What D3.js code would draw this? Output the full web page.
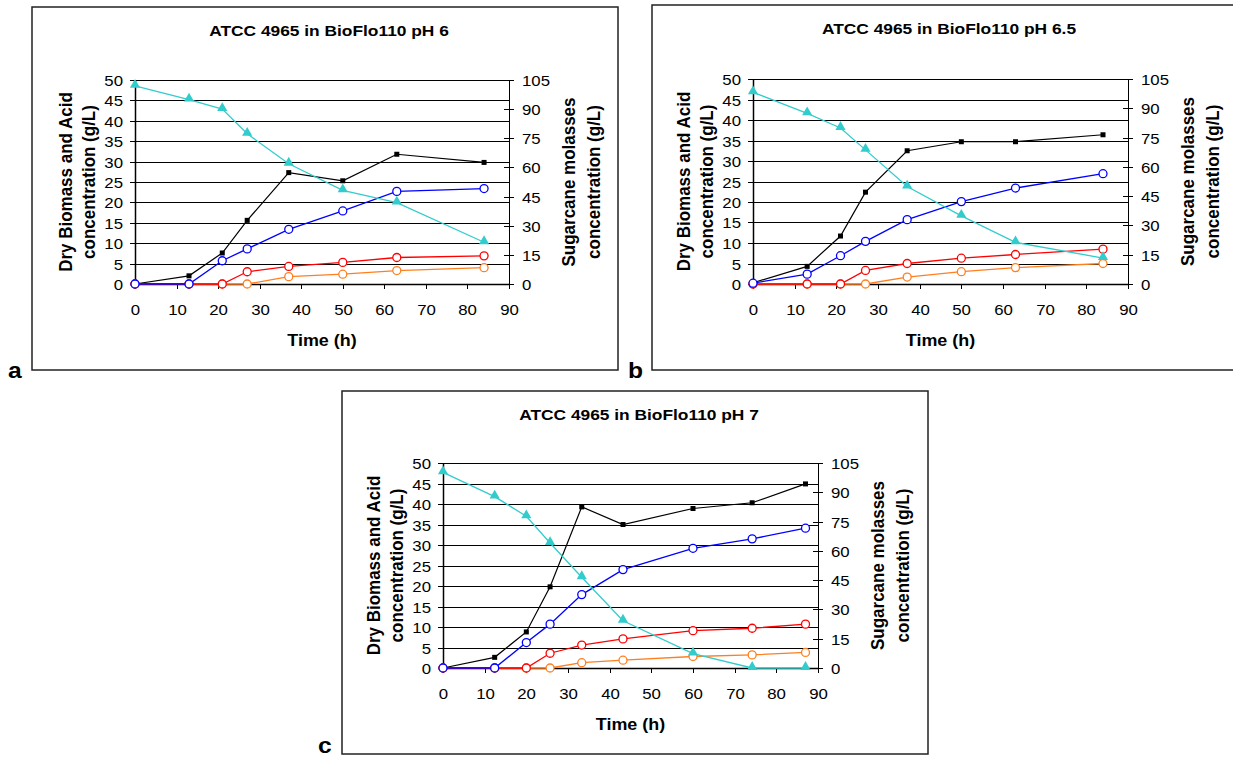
<!DOCTYPE html>
<html>
<head>
<meta charset="utf-8">
<script src="https://cdn.jsdelivr.net/npm/d3@7"></script>
<style>
  body { margin: 0; background: #fff; }
  svg { display: block; font-family: Arial, "Liberation Sans", sans-serif; }
</style>
</head>
<body>
<svg id="chart" width="1233" height="760"></svg>
<script>
// ---- data ----
var titles = ["ATCC 4965 in BioFlo110 pH 6", "ATCC 4965 in BioFlo110 pH 6.5", "ATCC 4965 in BioFlo110 pH 7"];
var letters = ["a", "b", "c"];

var timeA   = [0, 13, 21, 27, 37, 50, 63, 84];
var blackA  = [0, 2.0, 7.6, 15.6, 27.3, 25.3, 31.8, 29.8];
var blueA   = [0, 0, 5.7, 8.6, 13.4, 17.9, 22.7, 23.4];
var redA    = [0, 0, 0, 3.0, 4.3, 5.3, 6.5, 6.9];
var orangeA = [0, 0, 0, 0, 1.8, 2.4, 3.3, 4.0];
var cyanA   = [102, 94.9, 90, 77.3, 61.9, 48.2, 41.9, 21.5];

var timeB   = [0, 13, 21, 27, 37, 50, 63, 84];
var blackB  = [0.3, 4.3, 11.7, 22.4, 32.5, 34.7, 34.7, 36.4];
var blueB   = [0.2, 2.4, 6.9, 10.4, 15.7, 20.1, 23.4, 26.9];
var redB    = [0, 0, 0, 3.3, 5.0, 6.3, 7.2, 8.5];
var orangeB = [0, 0, 0, 0, 1.7, 3.0, 4.0, 5.0];
var cyanB   = [98.2, 87.4, 79.9, 68.7, 49.9, 34.9, 21.3, 13.3];

var timeC   = [0, 12.4, 20, 25.7, 33.3, 43.2, 60, 74.2, 87];
var blackC  = [0, 2.6, 8.8, 19.8, 39.3, 35.0, 38.9, 40.3, 44.9];
var blueC   = [0, 0, 6.2, 10.7, 17.9, 24.0, 29.2, 31.5, 34.1];
var redC    = [0, 0, 0, 3.6, 5.6, 7.1, 9.1, 9.7, 10.7];
var orangeC = [0, 0, 0, 0, 1.3, 1.9, 2.8, 3.2, 3.8];
var cyanC   = [100.2, 87.8, 77.7, 64.0, 46.5, 24.2, 7.4, 0, 0];

var xTicks = d3.range(0, 91, 10);
var leftTicks = d3.range(0, 51, 5);
var rightTicks = d3.range(0, 106, 15);

var leftTitle = ["Dry Biomass and Acid", "concentration (g/L)"];
var rightTitle = ["Sugarcane molasses", "concentration (g/L)"];
var xTitle = "Time (h)";

// the scan is stretched sideways a bit, so is the text
var STRETCH = 1.12;

var svg = d3.select("#chart");

// frame and plot boxes (pixels)
var panels = [
  {frame: [32, 7, 618, 370],  plot: [135, 80, 509, 284],  title: titles[0], letter: letters[0],
   t: timeA, black: blackA, blue: blueA, red: redA, orange: orangeA, cyan: cyanA},
  {frame: [652, 5, 1238, 370], plot: [753, 79, 1128, 284], title: titles[1], letter: letters[1],
   t: timeB, black: blackB, blue: blueB, red: redB, orange: orangeB, cyan: cyanB},
  {frame: [342, 391, 928, 754], plot: [443, 463, 818, 668], title: titles[2], letter: letters[2],
   t: timeC, black: blackC, blue: blueC, red: redC, orange: orangeC, cyan: cyanC}
];

function stext(g, x, y, str, size, weight, anchor, rot) {
  return g.append("text")
      .attr("transform", "translate(" + x + "," + y + ") scale(" + STRETCH + ",1)" + (rot ? " rotate(" + rot + ")" : ""))
      .attr("font-size", size)
      .attr("font-weight", weight || "normal")
      .attr("text-anchor", anchor || "middle")
      .attr("fill", "#000")
      .text(str);
}

panels.forEach(function(p) {
  var g = svg.append("g");
  var L = p.plot[0], T = p.plot[1], R = p.plot[2], B = p.plot[3];

  g.append("rect")
      .attr("x", p.frame[0]).attr("y", p.frame[1])
      .attr("width", p.frame[2] - p.frame[0]).attr("height", p.frame[3] - p.frame[1])
      .attr("fill", "none").attr("stroke", "#222").attr("stroke-width", 1.5);

  var x = d3.scaleLinear().domain([0, 90]).range([L, R]),
      y = d3.scaleLinear().domain([0, 50]).range([B, T]),
      y2 = d3.scaleLinear().domain([0, 105]).range([B, T]);

  // gridlines
  g.selectAll(".grid").data(leftTicks).enter().append("line")
      .attr("x1", L).attr("x2", R)
      .attr("y1", function(d) { return Math.round(y(d)) + 0.5; })
      .attr("y2", function(d) { return Math.round(y(d)) + 0.5; })
      .attr("stroke", "#000").attr("stroke-width", 1);

  // left axis
  g.append("line").attr("x1", L + 0.5).attr("x2", L + 0.5).attr("y1", T).attr("y2", B)
      .attr("stroke", "#000").attr("stroke-width", 1.5);
  leftTicks.forEach(function(d) {
    var yy = Math.round(y(d)) + 0.5;
    g.append("line").attr("x1", L - 5).attr("x2", L).attr("y1", yy).attr("y2", yy).attr("stroke", "#000");
    stext(g, L - 12, yy + 5.5, d, 15, "normal", "end");
  });

  // right axis, cross ticks
  g.append("line").attr("x1", R + 0.5).attr("x2", R + 0.5).attr("y1", T).attr("y2", B)
      .attr("stroke", "#000").attr("stroke-width", 1);
  rightTicks.forEach(function(d) {
    var yy = Math.round(y2(d)) + 0.5;
    g.append("line").attr("x1", R - 5).attr("x2", R + 5).attr("y1", yy).attr("y2", yy).attr("stroke", "#000");
    stext(g, R + 13, yy + 5.5, d, 15, "normal", "start");
  });

  // bottom axis
  g.append("line").attr("x1", L).attr("x2", R).attr("y1", B + 0.5).attr("y2", B + 0.5)
      .attr("stroke", "#000").attr("stroke-width", 1.5);
  xTicks.forEach(function(d) {
    var xx = Math.round(x(d)) + 0.5;
    g.append("line").attr("x1", xx).attr("x2", xx).attr("y1", B).attr("y2", B + 5).attr("stroke", "#000");
    stext(g, xx, B + 31, d, 15, "normal", "middle");
  });

  // titles
  stext(g, (p.frame[0] + p.frame[2]) / 2 + 4, p.frame[1] + 29, p.title, 15.5, "bold", "middle");
  stext(g, (L + R) / 2, B + 62, xTitle, 16, "bold", "middle");
  var my = (T + B) / 2;
  stext(g, L - 63, my, leftTitle[0], 17, "bold", "middle", -90);
  stext(g, L - 40, my, leftTitle[1], 17, "bold", "middle", -90);
  stext(g, R + 66, my, rightTitle[0], 17, "bold", "middle", -90);
  stext(g, R + 91, my, rightTitle[1], 17, "bold", "middle", -90);
  stext(g, p.frame[0] - 24, Math.min(p.frame[3] + 8, 753), p.letter, 22, "bold", "start");

  // series
  function pts(vals) { return p.t.map(function(t, i) { return [t, vals[i]]; }); }
  var line1 = d3.line().x(function(d) { return x(d[0]); }).y(function(d) { return y(d[1]); });
  var line2 = d3.line().x(function(d) { return x(d[0]); }).y(function(d) { return y2(d[1]); });

  function circles(vals, color) {
    var data = pts(vals);
    g.append("path").datum(data).attr("d", line1).attr("fill", "none").attr("stroke", color).attr("stroke-width", 1.3);
    g.selectAll(null).data(data).enter().append("circle")
        .attr("cx", function(d) { return x(d[0]); }).attr("cy", function(d) { return y(d[1]); })
        .attr("r", 4).attr("fill", "#fff").attr("stroke", color).attr("stroke-width", 1.3);
  }

  var bk = pts(p.black);
  g.append("path").datum(bk).attr("d", line1).attr("fill", "none").attr("stroke", "#000").attr("stroke-width", 1.2);
  g.selectAll(null).data(bk).enter().append("rect")
      .attr("x", function(d) { return x(d[0]) - 2.5; }).attr("y", function(d) { return y(d[1]) - 2.5; })
      .attr("width", 5).attr("height", 5).attr("fill", "#000");

  circles(p.orange, "#ff7f1f");
  circles(p.red, "#ff0000");
  circles(p.blue, "#0000ff");

  var cy = pts(p.cyan);
  var tri = d3.symbol().type(d3.symbolTriangle).size(45);
  g.append("path").datum(cy).attr("d", line2).attr("fill", "none").attr("stroke", "#33cccc").attr("stroke-width", 1.3);
  g.selectAll(null).data(cy).enter().append("path")
      .attr("d", tri)
      .attr("transform", function(d) { return "translate(" + x(d[0]) + "," + (y2(d[1]) - 1) + ")"; })
      .attr("fill", "#33cccc");
});
</script>
</body>
</html>
